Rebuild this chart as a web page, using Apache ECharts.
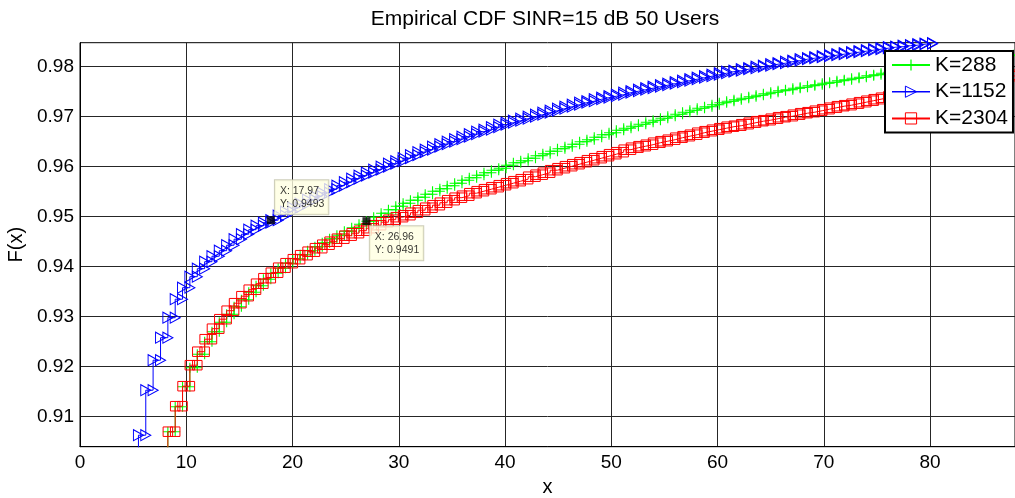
<!DOCTYPE html>
<html><head><meta charset="utf-8">
<script src="https://cdn.jsdelivr.net/npm/echarts@6/dist/echarts.min.js"></script>
<style>html,body{margin:0;padding:0;background:#fff}#c{width:1015px;height:498px}</style>
</head><body><div id="c"></div>
<script>
// shared x positions of the empirical-CDF steps
const xGrid = [
5.50, 6.19, 6.88, 7.58, 8.27, 8.96, 9.65, 10.34, 11.04, 11.73,
12.42, 13.11, 13.80, 14.50, 15.19, 15.88, 16.57, 17.26, 17.96, 18.65,
19.34, 20.03, 20.72, 21.42, 22.11, 22.80, 23.49, 24.18, 24.88, 25.57,
26.26, 26.95, 27.64, 28.34, 29.03, 29.72, 30.41, 31.10, 31.80, 32.49,
33.18, 33.87, 34.56, 35.26, 35.95, 36.64, 37.33, 38.02, 38.72, 39.41,
40.10, 40.79, 41.48, 42.18, 42.87, 43.56, 44.25, 44.94, 45.64, 46.33,
47.02, 47.71, 48.40, 49.10, 49.79, 50.48, 51.17, 51.86, 52.56, 53.25,
53.94, 54.63, 55.32, 56.02, 56.71, 57.40, 58.09, 58.78, 59.48, 60.17,
60.86, 61.55, 62.24, 62.94, 63.63, 64.32, 65.01, 65.70, 66.40, 67.09,
67.78, 68.47, 69.16, 69.86, 70.55, 71.24, 71.93, 72.62, 73.32, 74.01,
74.70, 75.39, 76.08, 76.78, 77.47, 78.16, 78.85, 79.54, 80.24, 80.93,
81.62, 82.31, 83.00, 83.70, 84.39, 85.08, 85.77, 86.46, 87.16, 87.85,
88.54];

const seriesNames = ['K=288', 'K=1152', 'K=2304'];

// K=288 (green) levels, starting at xGrid[4]
const greenStart = 4;
const greenPrior = 0.9010;
const greenLevels = [
0.9070, 0.9120, 0.9160, 0.9198, 0.9225, 0.9250, 0.9270, 0.9289, 0.9305, 0.9320,
0.9334, 0.9349, 0.9362, 0.9375, 0.9387, 0.9397, 0.9407, 0.9416, 0.9424, 0.9432,
0.9440, 0.9448, 0.9456, 0.9463, 0.9471, 0.9478, 0.9485, 0.9491, 0.9499, 0.9507,
0.9514, 0.9521, 0.9527, 0.9533, 0.9539, 0.9545, 0.9551, 0.9556, 0.9562, 0.9567,
0.9573, 0.9578, 0.9583, 0.9588, 0.9593, 0.9597,
0.9603, 0.9608, 0.9612, 0.9617, 0.9622, 0.9626, 0.9631, 0.9636, 0.9640, 0.9645,
0.9650, 0.9654, 0.9659, 0.9664, 0.9668, 0.9673,
0.9677, 0.9681, 0.9685, 0.9689, 0.9693, 0.9697, 0.9701, 0.9705, 0.9709, 0.9713,
0.9717, 0.9720, 0.9724, 0.9728, 0.9731, 0.9734, 0.9737, 0.9740, 0.9743, 0.9746,
0.9749, 0.9752, 0.9754, 0.9757, 0.9759, 0.9762, 0.9764, 0.9767, 0.9769, 0.9772,
0.9774, 0.9777, 0.9779, 0.9782, 0.9784, 0.9787, 0.9789, 0.9791, 0.9794, 0.9796,
0.9798, 0.9800, 0.9802, 0.9804, 0.9806, 0.9808, 0.9810, 0.9812, 0.9814, 0.9816,
0.9818, 0.9820, 0.9822, 0.9824];

// K=1152 (blue) levels, starting at xGrid[0]
const blueStart = 0;
const bluePrior = 0.8990;
const blueLevels = [
0.9063, 0.9153, 0.9213, 0.9258, 0.9298, 0.9335, 0.9358, 0.9380, 0.9396, 0.9410,
0.9421, 0.9432, 0.9443, 0.9455, 0.9465, 0.9474, 0.9482, 0.9488, 0.9493, 0.9502,
0.9510, 0.9518, 0.9526, 0.9534, 0.9541, 0.9548, 0.9555, 0.9562, 0.9569, 0.9576,
0.9582, 0.9588, 0.9594, 0.9600, 0.9606, 0.9611,
0.9617, 0.9623, 0.9629, 0.9634,
0.9640, 0.9645, 0.9650, 0.9655, 0.9660, 0.9665, 0.9670, 0.9674, 0.9679, 0.9684,
0.9688, 0.9692, 0.9696, 0.9700, 0.9704, 0.9708, 0.9712, 0.9716, 0.9720, 0.9724,
0.9728, 0.9731, 0.9735, 0.9738, 0.9741, 0.9744, 0.9748, 0.9751, 0.9754, 0.9757,
0.9760, 0.9763, 0.9766, 0.9769, 0.9772, 0.9775, 0.9778, 0.9781, 0.9784, 0.9787,
0.9790, 0.9792, 0.9795, 0.9797, 0.9800, 0.9802, 0.9805, 0.9807, 0.9810, 0.9812,
0.9815, 0.9817, 0.9819, 0.9821, 0.9823, 0.9825, 0.9827, 0.9829, 0.9831, 0.9833,
0.9835, 0.9837, 0.9839, 0.9840, 0.9842, 0.9843, 0.9845, 0.9846, 0.9847];

// K=2304 (red) levels, starting at xGrid[4]
const redStart = 4;
const redPrior = 0.9010;
const redLevels = [
0.9070, 0.9121, 0.9161, 0.9203, 0.9230, 0.9255, 0.9276, 0.9295, 0.9312, 0.9327,
0.9341, 0.9354, 0.9366, 0.9377, 0.9388, 0.9398, 0.9407, 0.9415, 0.9423, 0.9430,
0.9437, 0.9444, 0.9450, 0.9456, 0.9462, 0.9467, 0.9472, 0.9477, 0.9483, 0.9489,
0.9494, 0.9499,
0.9503, 0.9508, 0.9513, 0.9518, 0.9523, 0.9528, 0.9533, 0.9538, 0.9542, 0.9547,
0.9551, 0.9555, 0.9559, 0.9563, 0.9567,
0.9571, 0.9575, 0.9580, 0.9584, 0.9588, 0.9593, 0.9597, 0.9601, 0.9605, 0.9609,
0.9613, 0.9617, 0.9621, 0.9625, 0.9629,
0.9634, 0.9638, 0.9641, 0.9644, 0.9648, 0.9651, 0.9654, 0.9658, 0.9661, 0.9664,
0.9668, 0.9671, 0.9674, 0.9677,
0.9680, 0.9682, 0.9685, 0.9688, 0.9691, 0.9693, 0.9696, 0.9699, 0.9701, 0.9704,
0.9707, 0.9709, 0.9712, 0.9715, 0.9718, 0.9721, 0.9723, 0.9726, 0.9729, 0.9732,
0.9735, 0.9738, 0.9741, 0.9743, 0.9746, 0.9748, 0.9751, 0.9753, 0.9756, 0.9758,
0.9761, 0.9763, 0.9766, 0.9768, 0.9771, 0.9773, 0.9776, 0.9778, 0.9781, 0.9784];

const xTicks = [0, 10, 20, 30, 40, 50, 60, 70, 80];
const yTicks = [0.91, 0.92, 0.93, 0.94, 0.95, 0.96, 0.97, 0.98];

// data tips
const tipX = [17.97, 26.96];
const tipY = [0.9493, 0.9491];

const FONT = "'Liberation Sans', Arial, Helvetica, sans-serif";

function stairs(start, levels, prior, openEnd) {
  const pts = [[xGrid[start], prior]];
  for (let i = 0; i < levels.length; i++) {
    const k = start + i;
    pts.push([xGrid[k], levels[i]]);
    const last = i === levels.length - 1;
    if ((!last || openEnd) && k + 1 < xGrid.length) pts.push([xGrid[k + 1], levels[i]]);
  }
  return pts;
}

const GREEN = '#00ff00', BLUE = '#0000ff', RED = '#ff0000';
const plusPath = 'path://M4.45,0H5.55V4.45H10V5.55H5.55V10H4.45V5.55H0V4.45H4.45Z';
const tipLabelPos = [[8, -36], [7.4, 9]];

const chart = echarts.init(document.getElementById('c'), null, {renderer: 'canvas'});
chart.setOption({
  animation: false,
  backgroundColor: '#fff',
  title: {
    text: 'Empirical CDF SINR=15 dB 50 Users',
    left: 545, top: 9, textAlign: 'center', padding: 0,
    textStyle: {fontFamily: FONT, fontSize: 21, fontWeight: 'normal', color: '#000'}
  },
  grid: {
    left: 80, right: 0, top: 42.7, bottom: 51.3,
    show: true, borderColor: '#000', borderWidth: 1, backgroundColor: '#fff',
    containLabel: false, outerBoundsMode: 'none'
  },
  xAxis: {
    type: 'value', min: 0, max: 88,
    name: 'x', nameLocation: 'middle', nameGap: 29,
    nameTextStyle: {fontFamily: FONT, fontSize: 20, color: '#000'},
    axisLine: {show: true, lineStyle: {color: '#000', width: 1}},
    axisTick: {show: false, customValues: xTicks},
    axisLabel: {customValues: xTicks, fontFamily: FONT, fontSize: 19, color: '#000', margin: 7},
    splitLine: {show: true, lineStyle: {color: '#262626', width: 1}}
  },
  yAxis: {
    type: 'value', min: 0.904, max: 0.9848,
    name: 'F(x)', nameLocation: 'middle', nameGap: 50,
    nameTextStyle: {fontFamily: FONT, fontSize: 20, color: '#000'},
    axisLine: {show: true, lineStyle: {color: '#000', width: 1}},
    axisTick: {show: false, customValues: yTicks},
    axisLabel: {customValues: yTicks, fontFamily: FONT, fontSize: 19, color: '#000', margin: 6},
    splitLine: {show: true, lineStyle: {color: '#262626', width: 1}}
  },
  legend: {
    orient: 'vertical', left: 885, top: 51, zlevel: 2, z: 50,
    padding: [3, 5, 3, 6], itemGap: 4.7, itemWidth: 38, itemHeight: 14,
    backgroundColor: '#fff', borderColor: '#000', borderWidth: 2, borderRadius: 0,
    selectedMode: false,
    textStyle: {fontFamily: FONT, fontSize: 21, color: '#000', lineHeight: 22},
    data: [
      {name: seriesNames[0], itemStyle: {color: GREEN, borderWidth: 0}, lineStyle: {color: GREEN, width: 2}},
      {name: seriesNames[1], itemStyle: {color: 'rgba(0,0,0,0)', borderColor: BLUE, borderWidth: 1}, lineStyle: {color: BLUE, width: 1.5}},
      {name: seriesNames[2], itemStyle: {color: 'rgba(0,0,0,0)', borderColor: RED, borderWidth: 1}, lineStyle: {color: RED, width: 2}}
    ]
  },
  series: [
    {
      name: seriesNames[0], type: 'line', data: stairs(greenStart, greenLevels, greenPrior, true),
      symbol: plusPath, symbolSize: 10, showAllSymbol: true, clip: true,
      itemStyle: {color: GREEN, borderWidth: 0},
      lineStyle: {color: GREEN, width: 1}, z: 2, emphasis: {disabled: true}
    },
    {
      name: seriesNames[1], type: 'line', data: stairs(blueStart, blueLevels, bluePrior, false),
      symbol: 'triangle', symbolRotate: -90, symbolSize: [11, 10], showAllSymbol: true, clip: true,
      itemStyle: {color: 'rgba(0,0,0,0)', borderColor: BLUE, borderWidth: 1},
      lineStyle: {color: BLUE, width: 1}, z: 3, emphasis: {disabled: true}
    },
    {
      name: seriesNames[2], type: 'line', data: stairs(redStart, redLevels, redPrior, true),
      symbol: 'rect', symbolSize: 9.5, showAllSymbol: true, clip: true,
      itemStyle: {color: 'rgba(0,0,0,0)', borderColor: RED, borderWidth: 1},
      lineStyle: {color: RED, width: 1}, z: 4, emphasis: {disabled: true}
    },
    {
      name: 'tips', type: 'scatter', zlevel: 1, z: 30, symbol: 'rect', symbolSize: 8,
      itemStyle: {color: '#000'}, emphasis: {disabled: true},
      data: tipX.map((x, i) => ({value: [x, tipY[i]], label: {position: tipLabelPos[i]}})),
      label: {
        show: true, align: 'left', verticalAlign: 'top',
        formatter: p => 'X: ' + p.value[0] + '\nY: ' + p.value[1],
        fontFamily: FONT, fontSize: 10.5, lineHeight: 13.5, color: '#000',
        backgroundColor: '#ffffe1', borderColor: '#c0c0a8', borderWidth: 1,
        padding: [4, 4, 3, 5]
      }
    }
  ]
});
</script>
</body></html>
